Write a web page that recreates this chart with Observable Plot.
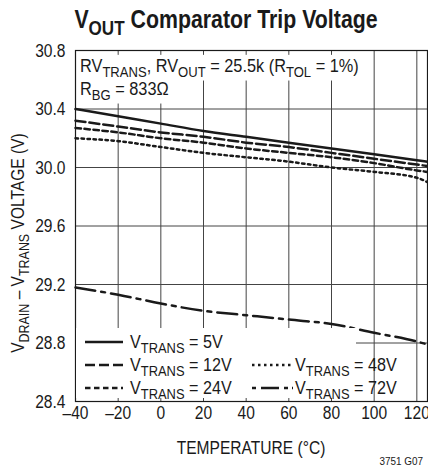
<!DOCTYPE html>
<html>
<head>
<meta charset="utf-8">
<script src="https://cdn.jsdelivr.net/npm/d3@7"></script>
<script src="https://cdn.jsdelivr.net/npm/@observablehq/plot@0.6"></script>
<style>
  html, body { margin: 0; padding: 0; background: #fff; }
  #chart { width: 428px; height: 467px; overflow: hidden; }
  svg { font-family: "Liberation Sans", Arial, sans-serif; }
</style>
</head>
<body>
<div id="chart"></div>
<script>
// ---- data ----
const temps = [-40, -20, 0, 20, 40, 60, 80, 100, 120, 125];
const v5V  = [30.40, 30.35, 30.30, 30.25, 30.21, 30.17, 30.13, 30.09, 30.05, 30.04];
const v12V = [30.32, 30.28, 30.24, 30.21, 30.17, 30.14, 30.10, 30.06, 30.02, 30.01];
const v24V = [30.27, 30.24, 30.20, 30.17, 30.13, 30.10, 30.07, 30.03, 29.98, 29.97];
const v48V = [30.20, 30.18, 30.14, 30.10, 30.07, 30.04, 30.00, 29.97, 29.93, 29.90];
const v72V = [29.18, 29.13, 29.07, 29.02, 28.99, 28.96, 28.93, 28.87, 28.81, 28.79];
const seriesNames = ["5V", "12V", "24V", "48V", "72V"];
const seriesValues = [v5V, v12V, v24V, v48V, v72V];
const xTicks = [-40, -20, 0, 20, 40, 60, 80, 100, 120];
const yTicks = [28.4, 28.8, 29.2, 29.6, 30.0, 30.4, 30.8];

const dashes = {"5V": null, "12V": "10 4", "24V": "5.5 3.5", "48V": "2.5 3.5", "72V": "20 6 4 6"};
const ink = "#1a1a1a";
const SX = 0.82;   // horizontal condensing of the text (condensed Helvetica look)
const fs = 19;

const rows = [];
seriesNames.forEach((s, i) => temps.forEach((t, j) => rows.push({series: s, t, v: seriesValues[i][j]})));

const lines = seriesNames.map(s => Plot.line(rows.filter(d => d.series === s), {
  x: "t", y: "v", stroke: ink, strokeWidth: 2.5, strokeDasharray: dashes[s], curve: "monotone-x"
}));

const plot = Plot.plot({
  width: 428, height: 467,
  marginLeft: 75, marginRight: 1, marginTop: 50, marginBottom: 66,
  style: {fontSize: fs + "px", color: ink, fontFamily: "'Liberation Sans', Arial, sans-serif"},
  x: {domain: [-40, 125], ticks: xTicks, tickSize: 0, tickPadding: 4, label: null,
      tickFormat: d => d < 0 ? "\u2013" + Math.abs(d) : String(d)},
  y: {domain: [28.4, 30.8], ticks: yTicks, tickSize: 0, tickPadding: 10, label: null, tickFormat: d3.format(".1f")},
  marks: [
    Plot.gridX(xTicks, {stroke: "#444", strokeOpacity: 1, strokeWidth: 1}),
    Plot.gridY(yTicks, {stroke: "#444", strokeOpacity: 1, strokeWidth: 1}),
    ...lines,
    Plot.frame({stroke: ink, strokeWidth: 1.2})
  ]
});
document.getElementById("chart").appendChild(plot);

const svg = d3.select(plot);

// condense the axis tick labels
svg.selectAll('g[aria-label$="tick label"] text').each(function () {
  const tr = this.getAttribute("transform") || "";
  this.setAttribute("transform", tr + ` scale(${SX},1)`);
});

function rich(g, x, y, parts, opts = {}) {
  const size = opts.size || fs;
  const sx = opts.sx || SX;
  const t = g.append("text").attr("x", 0).attr("y", 0)
    .attr("transform", `translate(${x},${y})` + (opts.rotate ? ` rotate(${opts.rotate})` : "") + ` scale(${sx},1)`)
    .attr("fill", ink).attr("font-size", size)
    .attr("text-anchor", opts.anchor || "start");
  if (opts.weight) t.attr("font-weight", opts.weight);
  let shifted = 0;
  parts.forEach(p => {
    const [str, sub] = Array.isArray(p) ? p : [p, false];
    const ts = t.append("tspan").text(str);
    const target = sub ? size * 0.28 : 0;
    const dy = target - shifted;
    if (dy !== 0) ts.attr("dy", dy);
    shifted = target;
    if (sub) ts.attr("font-size", size * 0.8);
  });
  return t;
}

function withBg(g, x, y, parts, opts, pad) {
  const sx = opts.sx || SX;
  const bg = g.append("rect").attr("fill", "#fff");
  const t = rich(g, x, y, parts, opts);
  const b = t.node().getBBox();
  bg.attr("x", x + b.x * sx - pad[0]).attr("y", y + b.y - pad[1])
    .attr("width", b.width * sx + pad[0] * 2).attr("height", b.height + pad[1] * 2);
  return t;
}

// Title
rich(svg, 226, 28, ["V", ["OUT", true], " Comparator Trip Voltage"], {size: 26, weight: "bold", anchor: "middle"});

// Annotation
const ann = svg.append("g");
withBg(ann, 80, 72, ["RV", ["TRANS", true], ", RV", ["OUT", true], " = 25.5k (R", ["TOL", true], " = 1%)"], {sx: 0.86}, [3, 0]);
withBg(ann, 80, 95, ["R", ["BG", true], " = 833\u03a9"], {sx: 0.86}, [3, 0]);

// Legend
const lg = svg.append("g");
lg.append("rect").attr("x", 76).attr("y", 328).attr("width", 280).attr("height", 70).attr("fill", "#fff");
const legendItems = [
  {s: "5V", col: 0, row: 0},
  {s: "12V", col: 0, row: 1},
  {s: "24V", col: 0, row: 2},
  {s: "48V", col: 1, row: 1},
  {s: "72V", col: 1, row: 2}
];
const colX = [[85, 123, 130], [252, 293, 295]];
legendItems.forEach(it => {
  const y = 342 + it.row * 23;
  const [x0, x1, tx] = colX[it.col];
  const l = lg.append("line").attr("x1", x0).attr("x2", x1).attr("y1", y).attr("y2", y)
    .attr("stroke", ink).attr("stroke-width", 2.5);
  if (dashes[it.s]) l.attr("stroke-dasharray", it.s === "72V" ? "4 5 18 5 4" : dashes[it.s]);
  rich(lg, tx, y + 6, ["V", ["TRANS", true], " = " + it.s], {sx: 0.85});
});

// Axis labels
rich(svg, 251, 454, ["TEMPERATURE (\u00b0C)"], {anchor: "middle"});
rich(svg, 24, 243, ["V", ["DRAIN", true], " \u2013 V", ["TRANS", true], " VOLTAGE (V)"], {anchor: "middle", rotate: -90});
rich(svg, 423, 465, ["3751 G07"], {anchor: "end", size: 11, sx: 0.9});
</script>
</body>
</html>
